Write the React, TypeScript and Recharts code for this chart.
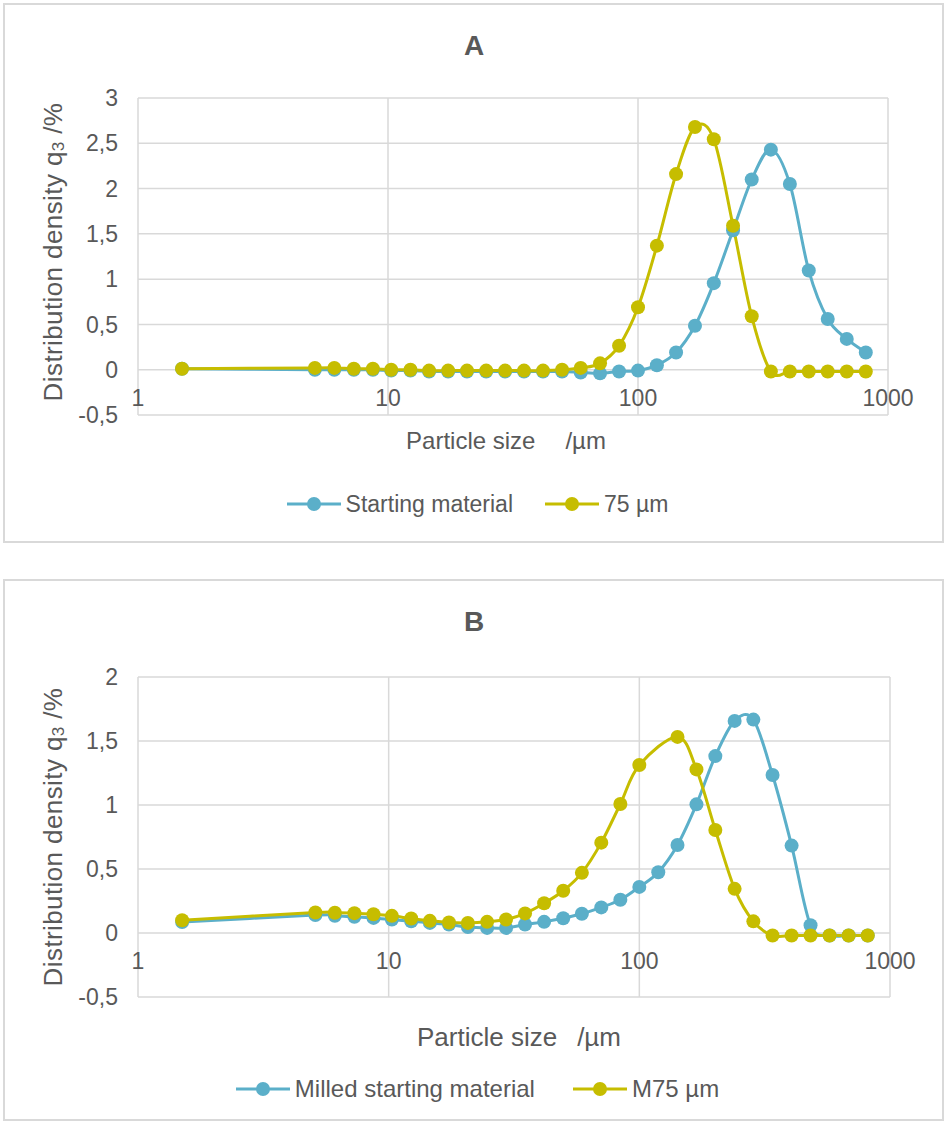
import React from "react";
import { LineChart, Line, XAxis, YAxis, CartesianGrid } from "recharts";

// particle size classes (µm)
const sizes = [
  1.5, 5.1, 6.1, 7.3, 8.7, 10.3, 12.3, 14.6, 17.4, 20.7, 24.7, 29.4, 35, 41.7, 49.7, 59, 70.5, 84, 100,
  119, 142, 169, 201, 240, 285, 340, 405, 482, 574, 684, 815,
];

// chart A
const startingMaterial = [
  0.01, 0, 0, 0, 0, -0.01, -0.01, -0.02, -0.02, -0.02, -0.02, -0.02, -0.02, -0.02, -0.02, -0.03, -0.04,
  -0.02, -0.01, 0.05, 0.19, 0.485, 0.956, 1.54, 2.1, 2.43, 2.05, 1.095, 0.56, 0.34, 0.19,
];
const sieved75 = [
  0.01, 0.02, 0.02, 0.01, 0.01, 0, 0, -0.01, -0.01, -0.01, -0.01, -0.01, -0.01, -0.01, 0, 0.02, 0.07,
  0.265, 0.69, 1.37, 2.16, 2.68, 2.545, 1.59, 0.59, -0.02, -0.02, -0.02, -0.02, -0.02, -0.02,
];

// chart B
const milledStarting = [
  0.085, 0.14, 0.135, 0.126, 0.118, 0.105, 0.092, 0.079, 0.066, 0.047, 0.04, 0.04, 0.066, 0.087, 0.115,
  0.15, 0.2, 0.26, 0.36, 0.475, 0.688, 1.005, 1.382, 1.657, 1.667, 1.234, 0.683, 0.06, -0.02, -0.02, -0.02,
];
const milled75 = [
  0.1, 0.16, 0.158, 0.155, 0.147, 0.134, 0.113, 0.095, 0.082, 0.079, 0.087, 0.105, 0.153, 0.232, 0.33,
  0.47, 0.706, 1.008, 1.312, null, 1.532, 1.278, 0.805, 0.345, 0.091, -0.02, -0.02, -0.02, -0.02, -0.02, -0.02,
];

const xTicks = [1, 10, 100, 1000];
const yTicksA = [-0.5, 0, 0.5, 1, 1.5, 2, 2.5, 3];
const yTicksB = [-0.5, 0, 0.5, 1, 1.5, 2];

const BLUE = "#5BAFC9";
const YELLOW = "#C6BD00";
const TEXT = "#595959";
const GRID = "#d9d9d9";
const FONT = "'Liberation Sans', Arial, sans-serif";

const toPoints = (ys: (number | null)[]) => sizes.map((x, i) => ({ x, y: ys[i] }));

// Excel-like smoothed line (uniform Catmull-Rom through the points)
const smoothCurve = (context: any) => {
  let pts: [number, number][] = [];
  return {
    areaStart() {},
    areaEnd() {},
    lineStart() {
      pts = [];
    },
    lineEnd() {
      const n = pts.length;
      if (!n) return;
      context.moveTo(pts[0][0], pts[0][1]);
      for (let i = 0; i < n - 1; i++) {
        const p0 = pts[Math.max(0, i - 1)];
        const p1 = pts[i];
        const p2 = pts[i + 1];
        const p3 = pts[Math.min(n - 1, i + 2)];
        context.bezierCurveTo(
          p1[0] + (p2[0] - p0[0]) / 6,
          p1[1] + (p2[1] - p0[1]) / 6,
          p2[0] - (p3[0] - p1[0]) / 6,
          p2[1] - (p3[1] - p1[1]) / 6,
          p2[0],
          p2[1]
        );
      }
    },
    point(x: number, y: number) {
      pts.push([+x, +y]);
    },
  };
};

const fmt = (v: number) => String(v).replace(".", ",");

type PanelProps = {
  top: number;
  height: number;
  title: string;
  yTicks: number[];
  plot: { top: number; right: number; bottom: number };
  series: { name: string; color: string; values: (number | null)[] }[];
  yTitle: { x: number; y: number };
  xTitle: { x: number; y: number; gap: number; size: number };
  legend: { y: number; size: number; gap: number };
};

function Panel({ top, height, title, yTicks, plot, series, yTitle, xTitle, legend }: PanelProps) {
  const width = 941;
  const left = 135;
  const xAxisH = 30;
  const plotH = height - plot.top - plot.bottom;
  const yMin = yTicks[0];
  const yMax = yTicks[yTicks.length - 1];
  // category labels sit just under the y = 0 line, as in Excel
  const shift = (plotH * (0 - yMin)) / (yMax - yMin) - 28;

  return (
    <div
      style={{
        position: "absolute",
        left: 3,
        top,
        width,
        height,
        boxShadow: `inset 0 0 0 2px ${GRID}`,
        background: "#fff",
        fontFamily: FONT,
      }}
    >
      <LineChart
        width={width}
        height={height}
        margin={{ top: plot.top, right: plot.right, left: 0, bottom: plot.bottom - xAxisH }}
      >
        <CartesianGrid stroke={GRID} strokeWidth={1.5} />
        <XAxis
          type="number"
          dataKey="x"
          scale="log"
          domain={[1, 1000]}
          ticks={xTicks}
          interval={0}
          allowDataOverflow
          height={xAxisH}
          axisLine={false}
          tickLine={false}
          tickSize={0}
          tickMargin={0}
          tick={(p: any) => (
            <text
              x={p.x}
              y={p.y - shift}
              textAnchor="middle"
              dominantBaseline="central"
              fontSize={23}
              fontFamily={FONT}
              fill={TEXT}
            >
              {p.payload.value}
            </text>
          )}
        />
        <YAxis
          type="number"
          domain={[yMin, yMax]}
          ticks={yTicks}
          interval={0}
          width={left}
          axisLine={false}
          tickLine={false}
          tickSize={0}
          tickMargin={20}
          tickFormatter={fmt}
          tick={{ fontSize: 23, fill: TEXT, fontFamily: FONT }}
        />
        {series.map((s) => (
          <Line
            key={s.name}
            data={toPoints(s.values)}
            dataKey="y"
            name={s.name}
            type={smoothCurve as any}
            stroke={s.color}
            strokeWidth={3}
            dot={{ r: 7, fill: s.color, stroke: s.color, strokeWidth: 0 }}
            activeDot={false}
            connectNulls
            isAnimationActive={false}
          />
        ))}
      </LineChart>

      <svg
        width={width}
        height={height}
        style={{ position: "absolute", left: 0, top: 0, pointerEvents: "none" }}
        fontFamily={FONT}
        fill={TEXT}
      >
        <text x={471} y={42} textAnchor="middle" dominantBaseline="central" fontSize={28} fontWeight="bold">
          {title}
        </text>
        <text
          transform={`translate(${yTitle.x}, ${yTitle.y}) rotate(-90)`}
          textAnchor="middle"
          dominantBaseline="central"
          fontSize={26}
          letterSpacing={0.4}
        >
          Distribution density q
          <tspan fontSize={17} dy={5}>
            3
          </tspan>
          <tspan dy={-5}> /%</tspan>
        </text>
        <text
          x={xTitle.x}
          y={xTitle.y}
          textAnchor="middle"
          dominantBaseline="central"
          fontSize={xTitle.size}
        >
          Particle size
          <tspan dx={xTitle.gap}>/µm</tspan>
        </text>
      </svg>

      <div
        style={{
          position: "absolute",
          left: 8,
          right: 0,
          top: legend.y - 15,
          height: 30,
          display: "flex",
          justifyContent: "center",
          alignItems: "center",
          gap: legend.gap,
          color: TEXT,
          fontSize: legend.size,
        }}
      >
        {series.map((s) => (
          <div key={s.name} style={{ display: "flex", alignItems: "center", gap: 5 }}>
            <svg width={54} height={16}>
              <line x1={0} y1={8} x2={54} y2={8} stroke={s.color} strokeWidth={3} />
              <circle cx={27} cy={8} r={7} fill={s.color} />
            </svg>
            <span>{s.name}</span>
          </div>
        ))}
      </div>
    </div>
  );
}

export default function App() {
  return (
    <div style={{ position: "absolute", left: 0, top: 0, width: 947, height: 1124, background: "#fff" }}>
      <Panel
        top={3}
        height={540}
        title="A"
        yTicks={yTicksA}
        plot={{ top: 95, right: 56, bottom: 128 }}
        series={[
          { name: "Starting material", color: BLUE, values: startingMaterial },
          { name: "75 µm", color: YELLOW, values: sieved75 },
        ]}
        yTitle={{ x: 50, y: 249 }}
        xTitle={{ x: 503, y: 437, gap: 30, size: 24 }}
        legend={{ y: 501, size: 23, gap: 32 }}
      />
      <Panel
        top={579}
        height={542}
        title="B"
        yTicks={yTicksB}
        plot={{ top: 98, right: 54, bottom: 124 }}
        series={[
          { name: "Milled starting material", color: BLUE, values: milledStarting },
          { name: "M75 µm", color: YELLOW, values: milled75 },
        ]}
        yTitle={{ x: 50, y: 258 }}
        xTitle={{ x: 516, y: 458, gap: 20, size: 26 }}
        legend={{ y: 510, size: 24, gap: 38 }}
      />
    </div>
  );
}
